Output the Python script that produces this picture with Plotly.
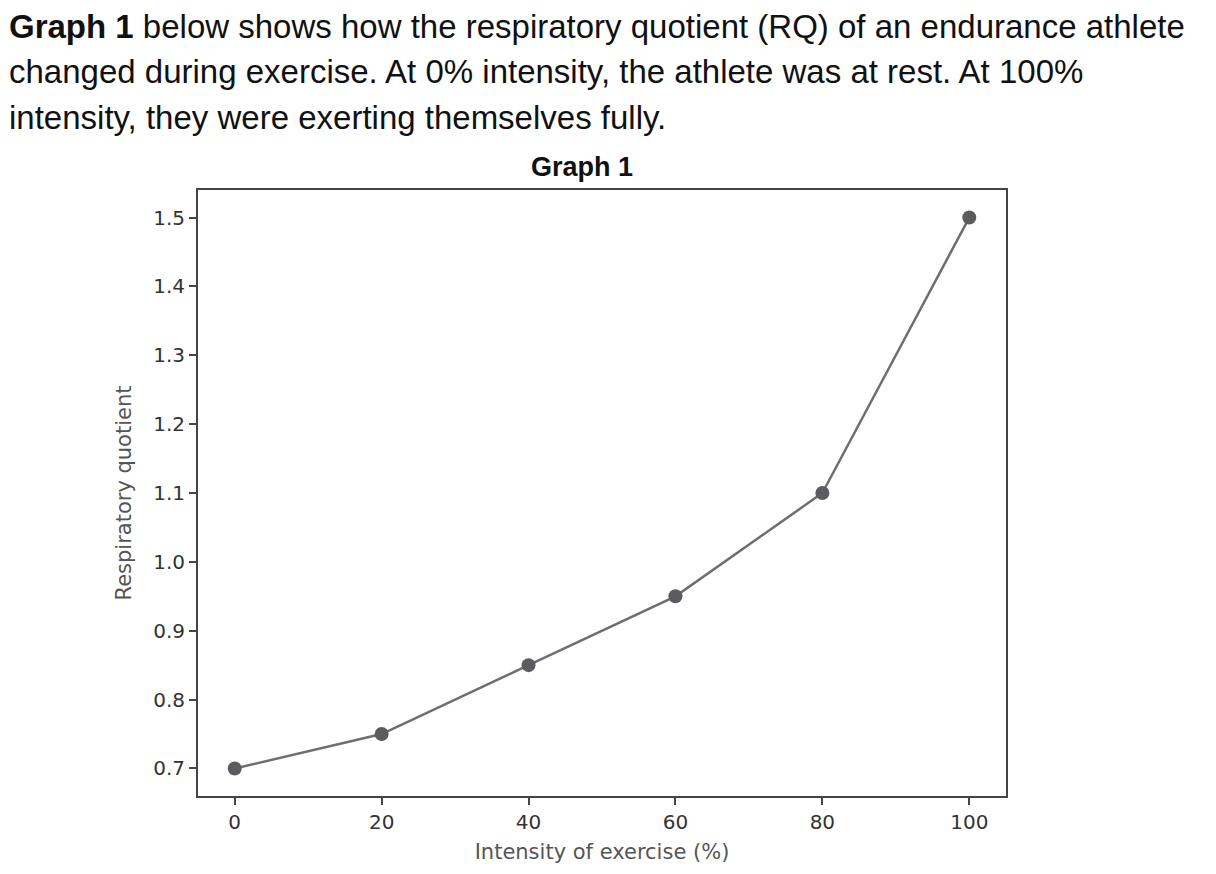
import plotly.graph_objects as go

# Graph 1 : quotient respiratoire selon l'intensité
intensity = [0, 20, 40, 60, 80, 100]
rq_values = [0.70, 0.75, 0.85, 0.95, 1.10, 1.50]
x_ticks = [0, 20, 40, 60, 80, 100]
y_ticks = [0.7, 0.8, 0.9, 1.0, 1.1, 1.2, 1.3, 1.4, 1.5]

intro_lines = [
    "<b>Graph 1</b> below shows how the respiratory quotient (RQ) of an endurance athlete",
    "changed during exercise. At 0% intensity, the athlete was at rest. At 100%",
    "intensity, they were exerting themselves fully.",
]

W, H = 1216, 874
# la page a une marge de 8px, on décale tout
OFF = 8
L, R, T, B = 198 - OFF, 1006 - OFF, 190 - OFF, 796 - OFF


def px(x):
    return (x - OFF - L) / (R - L)


def py(y):
    return (B - (y - OFF)) / (B - T)


fig = go.Figure()
fig.add_trace(go.Scatter(
    x=intensity, y=rq_values, mode="lines+markers",
    line=dict(color="#6e6e6e", width=2.5),
    marker=dict(color="#5c5c60", size=14),
    showlegend=False,
))

axis_common = dict(
    showgrid=False, zeroline=False, showline=True, mirror=True,
    linecolor="#444444", linewidth=2,
    ticks="outside", ticklen=7, tickwidth=1.5, tickcolor="#444444",
    tickfont=dict(family="DejaVu Sans", size=20, color="#333333"),
)

fig.update_xaxes(
    range=[-5, 105], tickvals=x_ticks, **axis_common,
    title=dict(text="Intensity of exercise (%)", standoff=11,
               font=dict(family="DejaVu Sans", size=21, color="#555555")),
)
fig.update_yaxes(
    range=[0.66, 1.54], tickvals=y_ticks, tickformat=".1f", **axis_common,
    title=dict(text="Respiratory quotient", standoff=16,
               font=dict(family="DejaVu Sans", size=21, color="#555555")),
)

annotations = []
for i, line in enumerate(intro_lines):
    annotations.append(dict(
        text=line, xref="paper", yref="paper", x=px(7), y=py(27 + 45 * i),
        xanchor="left", yanchor="middle", showarrow=False, align="left",
        font=dict(family="Liberation Sans", size=33, color="#111111"),
    ))
annotations.append(dict(
    text="<b>Graph 1</b>", xref="paper", yref="paper", x=px(582), y=py(167),
    xanchor="center", yanchor="middle", showarrow=False,
    font=dict(family="Liberation Sans", size=27, color="#111111"),
))

fig.update_layout(
    width=W, height=H,
    margin=dict(l=L, r=W - R, t=T, b=H - B, pad=0),
    paper_bgcolor="white", plot_bgcolor="white",
    annotations=annotations,
)

fig.write_html("out.html")
